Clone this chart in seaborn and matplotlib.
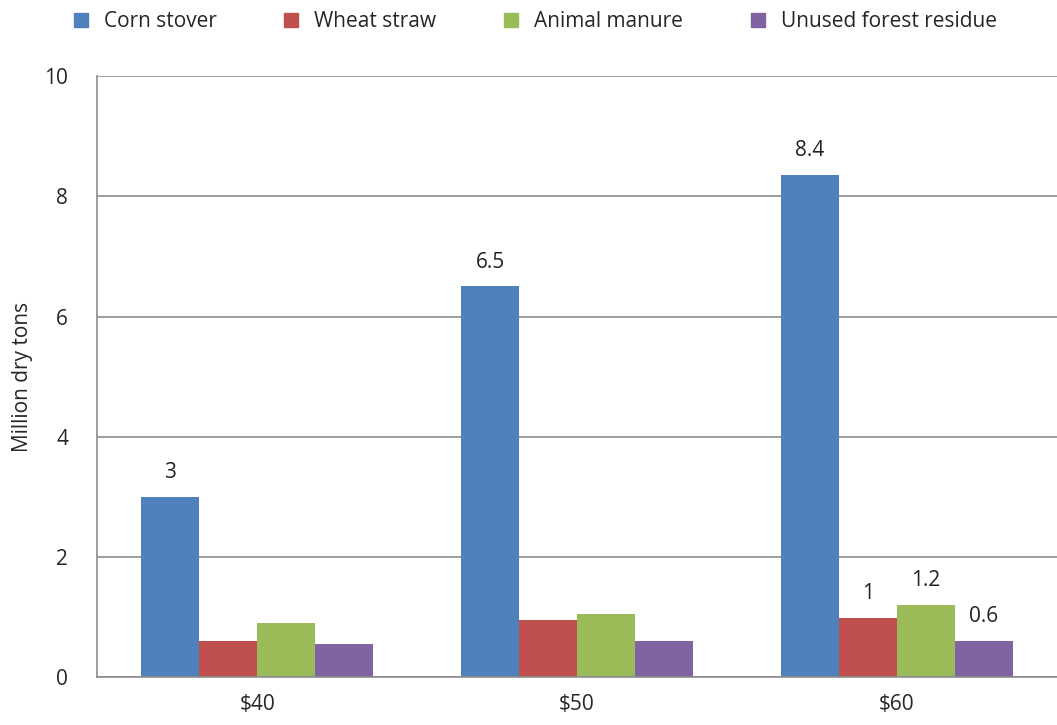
import pandas as pd
import matplotlib
matplotlib.use("Agg")
import matplotlib.pyplot as plt
import seaborn as sns

# data
prices = ['$40', '$50', '$60']
corn_stover = [3.0, 6.5, 8.35]
wheat_straw = [0.6, 0.95, 0.98]
animal_manure = [0.9, 1.05, 1.2]
forest_residue = [0.55, 0.6, 0.6]
series_names = ['Corn stover', 'Wheat straw', 'Animal manure', 'Unused forest residue']
colors = ['#4F81BD', '#C0504D', '#9BBB59', '#8064A2']

# value labels shown on the chart (empty = no label)
labels = {
    'Corn stover': ['3', '6.5', '8.4'],
    'Wheat straw': ['', '', '1'],
    'Animal manure': ['', '', '1.2'],
    'Unused forest residue': ['', '', '0.6'],
}

rows = []
for name, vals in zip(series_names, [corn_stover, wheat_straw, animal_manure, forest_residue]):
    for p, v in zip(prices, vals):
        rows.append({'price': p, 'source': name, 'value': v})
df = pd.DataFrame(rows)

sns.set_style('white')
plt.rcParams['font.family'] = ['Open Sans', 'DejaVu Sans']

fig = plt.figure(figsize=(10.57, 7.25), dpi=100)
ax = fig.add_axes([0.092, 0.066, 0.908, 0.829])

sns.barplot(data=df, x='price', y='value', hue='source', hue_order=series_names,
            palette=colors, width=0.725, saturation=1, linewidth=0, ax=ax, legend=False)

for container, name in zip(ax.containers, series_names):
    ax.bar_label(container, labels=labels[name], padding=10, fontsize=15, color='#222222')

ax.set_ylim(0, 10)
ax.set_xlim(-0.5, 2.5)
ax.set_yticks([0, 2, 4, 6, 8, 10])
ax.yaxis.grid(True, color='#8c8c8c', linewidth=1.2)
ax.set_axisbelow(True)

ax.set_xticks([-0.5, 0.5, 1.5, 2.5], minor=True)
ax.tick_params(axis='x', which='major', length=0, labelsize=15, pad=12)
ax.tick_params(axis='x', which='minor', length=7, color='#8c8c8c', width=1.2, direction='out')
ax.tick_params(axis='y', length=7, color='#8c8c8c', width=1.2, direction='out', labelsize=15, pad=14)

for s in ['top', 'right']:
    ax.spines[s].set_visible(False)
for s in ['left', 'bottom']:
    ax.spines[s].set_color('#8c8c8c')
    ax.spines[s].set_linewidth(1.2)

ax.set_xlabel('')
ax.set_ylabel('Million dry tons', fontsize=15, labelpad=8)

handles = [plt.Line2D([], [], marker='s', linestyle='', color=c, markersize=10) for c in colors]
fig.legend(handles, series_names, loc='upper center', bbox_to_anchor=(0.5, 1.01), ncol=4,
           frameon=False, fontsize=15, handletextpad=0.1, columnspacing=2.6)

fig.savefig('out.png', dpi=100)
